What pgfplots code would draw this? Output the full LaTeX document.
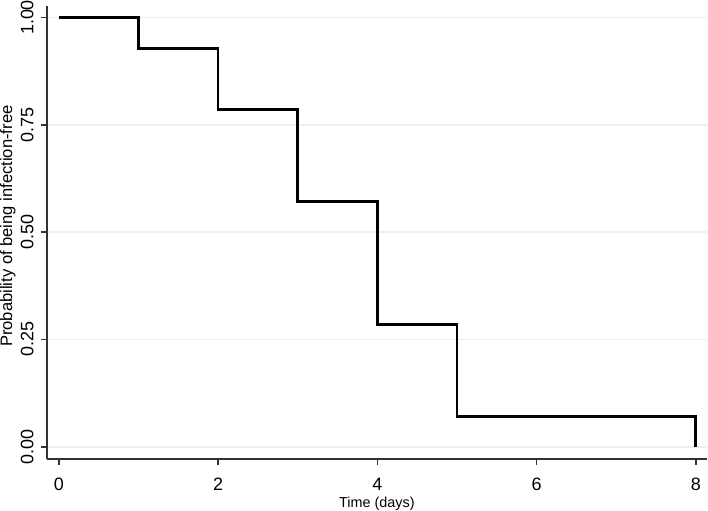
\documentclass[border=0pt]{standalone}
\usepackage{fontspec}
\setmainfont{Liberation Sans}
\usepackage{pgfplots}
\pgfplotsset{compat=1.18}
\usetikzlibrary{calc}
\definecolor{gridblue}{RGB}{232,240,243}
\definecolor{axisgray}{RGB}{50,50,50}

\begin{document}
\begin{tikzpicture}
\begin{axis}[
    scale only axis,
    width=330.5pt, height=226.5pt,
    xmin=-0.15, xmax=8.14,
    ymin=-0.028, ymax=1.026,
    axis x line*=bottom,
    axis y line*=left,
    x axis line style={axisgray, line width=1pt},
    y axis line style={axisgray, line width=1pt},
    xtick={0,2,4,6,8},
    ytick={0,0.25,0.5,0.75,1},
    yticklabels={0.00,0.25,0.50,0.75,1.00},
    tick align=outside,
    major tick length=3pt,
    tick style={axisgray, line width=0.8pt},
    ymajorgrids,
    grid style={gridblue, line width=0.8pt},
    /pgf/number format/assume math mode=true,
    tick label style={font=\fontsize{9}{10}\selectfont},
    yticklabel style={xshift=-3.5pt, rotate=90, anchor=south, inner sep=0pt},
    xticklabel style={anchor=north, inner sep=0pt, yshift=-6.5pt},
    xlabel={Time (days)},
    ylabel={Probability of being infection-free},
    xlabel style={font=\fontsize{7.2}{9}\selectfont, at={(axis description cs:0.5,0)}, anchor=north, yshift=-19pt, inner sep=0pt},
    ylabel style={font=\fontsize{8.3}{10}\selectfont, at={($(axis description cs:0,0.514)+(-15.5pt,0)$)}, anchor=south, inner sep=0pt},
]
    \addplot[const plot, black, line width=1.4pt, line join=miter] coordinates {
        (0,1) (1,0.9286) (2,0.7857) (3,0.5714) (4,0.2857) (5,0.0714) (8,0)
    };
\end{axis}
\end{tikzpicture}
\end{document}
